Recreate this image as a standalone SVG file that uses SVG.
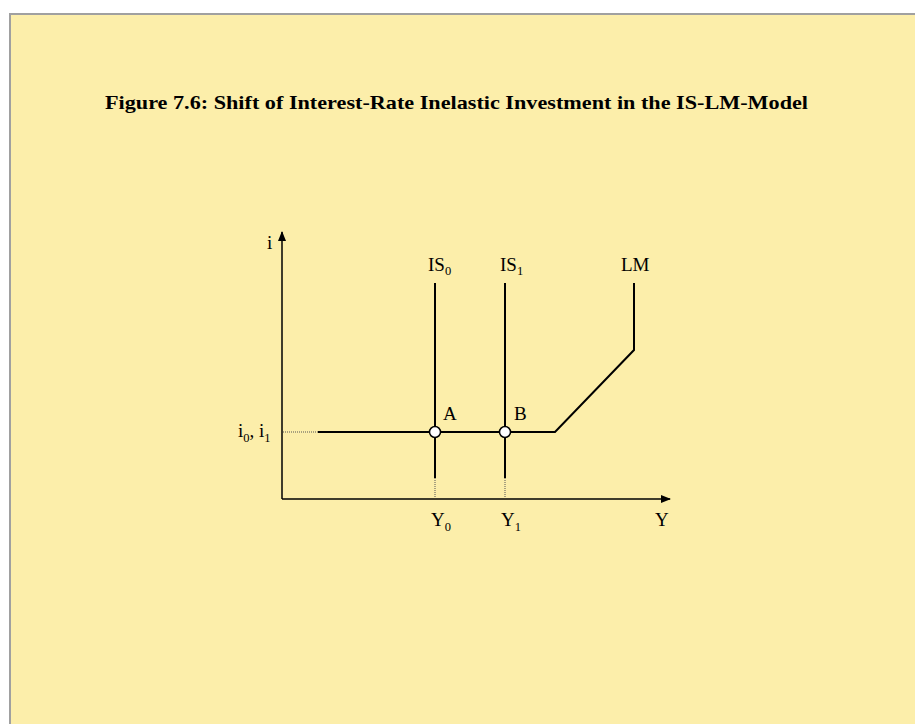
<svg xmlns="http://www.w3.org/2000/svg" width="915" height="724" viewBox="0 0 915 724">
<style>
text{font-family:"Liberation Serif","Times New Roman",serif;fill:#000}
.lbl{font-size:19px}
.sub{font-size:12.5px}
.ln{stroke:#000;stroke-width:2;fill:none}
.ax{stroke:#000;stroke-width:1.5;fill:none}
.dot{stroke:#555;stroke-width:1;stroke-dasharray:1,1;fill:none}
.pt{fill:#fff;stroke:#000;stroke-width:1.5}
</style>
<defs>
<marker id="ah" markerWidth="10" markerHeight="8" refX="9" refY="4" orient="auto" markerUnits="userSpaceOnUse">
<path d="M0,0 L10,4 L0,8 Z" fill="#000"/>
</marker>
</defs>
<rect x="0" y="0" width="915" height="724" fill="#fff"/>
<rect x="10" y="14" width="910" height="720" fill="#FCEEAA" stroke="#a0a0a0" stroke-width="2"/>
<text x="105" y="109" textLength="703" lengthAdjust="spacingAndGlyphs" style="font-size:19px;font-weight:bold">Figure 7.6: Shift of Interest-Rate Inelastic Investment in the IS-LM-Model</text>
<g id="connectors">
<line class="ax" x1="282" y1="499" x2="282" y2="232" marker-end="url(#ah)"/>
<line class="ax" x1="282" y1="499" x2="670" y2="499" marker-end="url(#ah)"/>
<line class="dot" x1="283" y1="432" x2="318" y2="432"/>
<line class="dot" x1="435" y1="478" x2="435" y2="498"/>
<line class="dot" x1="505" y1="478" x2="505" y2="498"/>
</g>
<g id="LM">
<polyline class="ln" points="318,432 555,432 634,350 634,283"/>
<text class="lbl" x="621" y="271">LM</text>
</g>
<g id="IS0">
<line class="ln" x1="435" y1="283" x2="435" y2="478"/>
<text class="lbl" x="428" y="271">IS<tspan class="sub" dy="4">0</tspan></text>
</g>
<g id="IS1">
<line class="ln" x1="505" y1="283" x2="505" y2="478"/>
<text class="lbl" x="500" y="271">IS<tspan class="sub" dy="4">1</tspan></text>
</g>
<g id="A">
<circle class="pt" cx="435" cy="432" r="5.5"/>
<text class="lbl" x="443" y="420">A</text>
</g>
<g id="B">
<circle class="pt" cx="505" cy="432" r="5.5"/>
<text class="lbl" x="514" y="420">B</text>
</g>
<g id="labels">
<text class="lbl" x="267" y="249">i</text>
<text class="lbl" x="238" y="437">i<tspan class="sub" dy="5">0</tspan><tspan dy="-5">, i</tspan><tspan class="sub" dy="5">1</tspan></text>
<text class="lbl" x="431" y="526">Y<tspan class="sub" dy="5">0</tspan></text>
<text class="lbl" x="501" y="526">Y<tspan class="sub" dy="5">1</tspan></text>
<text class="lbl" x="655" y="526">Y</text>
</g>
</svg>
